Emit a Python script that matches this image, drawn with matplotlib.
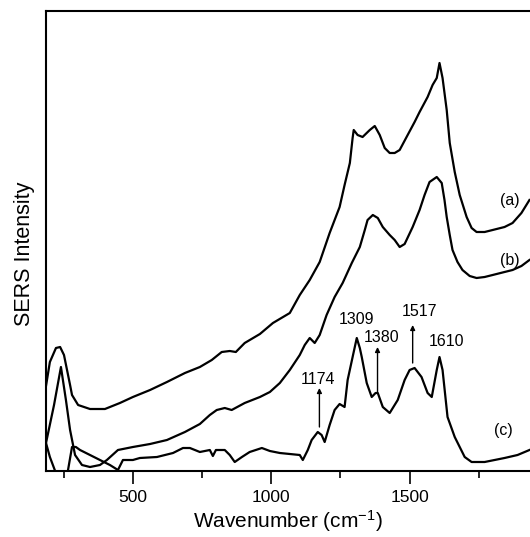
import matplotlib
matplotlib.use("Agg")
import matplotlib.pyplot as plt
from matplotlib.ticker import MultipleLocator

plt.rcParams['font.family'] = ['Liberation Sans', 'DejaVu Sans']
plt.rcParams['mathtext.fontset'] = 'custom'
plt.rcParams['mathtext.rm'] = 'Liberation Sans'
plt.rcParams['mathtext.it'] = 'Liberation Sans'
plt.rcParams['mathtext.default'] = 'regular'

# Spectrum (a)
wn_a = [186, 200, 222, 237, 251, 273, 280, 302, 345, 399, 453, 500, 562, 623, 688, 742,
        785, 821, 850, 872, 904, 959, 1006, 1067, 1103, 1139, 1175, 1211, 1247, 1265,
        1284, 1294, 1298, 1312, 1330, 1356, 1374, 1392, 1410, 1428, 1446, 1464, 1489,
        1518, 1536, 1565, 1583, 1598, 1608, 1619, 1634, 1645, 1663, 1681, 1706, 1724,
        1742, 1771, 1800, 1843, 1872, 1904, 1933]
int_a = [85, 109, 123, 124, 116, 86, 76, 66, 62, 62, 68, 74, 81, 89, 98, 104,
         111, 119, 120, 119, 128, 137, 148, 158, 176, 191, 209, 238, 264, 286,
         308, 333, 341, 336, 334, 341, 345, 336, 323, 318, 318, 321, 334,
         349, 359, 374, 386, 393, 408, 393, 361, 328, 299, 276, 254, 243,
         239, 239, 241, 244, 248, 258, 271]

# Spectrum (b)
wn_b = [186, 215, 240, 258, 273, 291, 316, 345, 381, 406, 446, 500, 562, 623, 688, 742,
        778, 803, 832, 857, 904, 959, 995, 1031, 1067, 1103, 1121, 1139, 1157, 1175,
        1200, 1229, 1258, 1291, 1320, 1338, 1348, 1367, 1385, 1403, 1428, 1446, 1464,
        1482, 1511, 1536, 1554, 1572, 1598, 1616, 1626, 1634, 1645, 1655, 1673, 1691,
        1717, 1742, 1771, 1800, 1843, 1872, 1904, 1933]
int_b = [28, 66, 104, 71, 41, 16, 6, 4, 6, 11, 21, 24, 27, 31, 39, 47,
         56, 61, 63, 61, 68, 74, 79, 88, 101, 116, 126, 133, 128, 136,
         156, 174, 188, 208, 224, 241, 251, 256, 253, 244, 236, 231, 224,
         227, 244, 261, 276, 289, 294, 288, 271, 254, 236, 221, 209, 201,
         195, 193, 194, 196, 199, 201, 205, 211]

# Spectrum (c)
wn_c = [186, 200, 219, 229, 237, 251, 265, 280, 294, 309, 345, 381, 417, 446, 464, 500,
        525, 587, 645, 681, 706, 742, 778, 789, 800, 832, 850, 868, 894, 922, 966, 995,
        1031, 1067, 1103, 1114, 1132, 1146, 1168, 1182, 1193, 1211, 1229, 1247, 1265,
        1276, 1294, 1309, 1320, 1327, 1345, 1363, 1377, 1385, 1403, 1428, 1457, 1482,
        1500, 1518, 1543, 1565, 1580, 1598, 1608, 1619, 1637, 1663, 1699, 1724, 1771,
        1807, 1843, 1890, 1933]
int_c = [28, 14, 0, -14, -24, -20, 0, 24, 24, 21, 16, 11, 6, 1, 11, 11,
         13, 14, 18, 23, 23, 19, 21, 15, 21, 21, 16, 9, 14, 19, 23, 20,
         18, 17, 16, 11, 21, 31, 39, 36, 29, 46, 61, 67, 64,
         91, 114, 133, 123, 114, 88, 74, 78, 78, 64, 58, 71, 91,
         101, 103, 94, 78, 74, 101, 114, 101, 54, 34, 14, 9, 9,
         11, 13, 16, 21]

# Peak annotations: label, arrow x, arrow base, arrow tip, label x, label y
peak_labels = ['1174', '1309', '1380', '1517', '1610']
peak_arrow_x = [1174, None, 1384, 1511, None]
peak_arrow_base = [44, None, 79, 108, None]
peak_arrow_tip = [83, None, 124, 146, None]
peak_text_x = [1168, 1309, 1399, 1536, 1634]
peak_text_y = [91, 151, 133, 159, 129]

curve_labels = ['(a)', '(b)', '(c)']
curve_label_x = [1861, 1861, 1839]
curve_label_y = [271, 211, 41]

fig = plt.figure(figsize=(5.30, 5.37), dpi=100)
ax = fig.add_axes([46/530, 1 - 471/537, 1 - 46/530, (471 - 11)/537])

for wn, it in [(wn_a, int_a), (wn_b, int_b), (wn_c, int_c)]:
    ax.plot(wn, it, color='black', lw=1.6, solid_joinstyle='round')

ax.set_xlim(186, 1935)
ax.set_ylim(0, 460)

for lab, ax_x, base, tip, tx, ty in zip(peak_labels, peak_arrow_x, peak_arrow_base,
                                        peak_arrow_tip, peak_text_x, peak_text_y):
    if ax_x is not None:
        ax.annotate('', xy=(ax_x, tip), xytext=(ax_x, base),
                    arrowprops=dict(arrowstyle='-|>', color='black', lw=1.0,
                                    mutation_scale=7, shrinkA=0, shrinkB=0))
    ax.text(tx, ty, lab, ha='center', va='center', fontsize=11.5)

for lab, lx, ly in zip(curve_labels, curve_label_x, curve_label_y):
    ax.text(lx, ly, lab, ha='center', va='center', fontsize=11.5)

ax.spines['right'].set_visible(False)
for s in ['left', 'bottom', 'top']:
    ax.spines[s].set_linewidth(1.5)

ax.xaxis.set_major_locator(MultipleLocator(500))
ax.xaxis.set_minor_locator(MultipleLocator(250))
ax.tick_params(axis='x', which='major', direction='out', length=9, width=1.2,
               labelsize=12.5, pad=5)
ax.tick_params(axis='x', which='minor', direction='out', length=5, width=1.2)
ax.tick_params(axis='y', left=False, labelleft=False)

ax.set_xlabel('Wavenumber (cm$^{-1}$)', fontsize=15, labelpad=2)
ax.set_ylabel('SERS Intensity', fontsize=15.5)
ax.yaxis.set_label_coords(-0.022, 0.472)

fig.savefig('out.png', dpi=100)
